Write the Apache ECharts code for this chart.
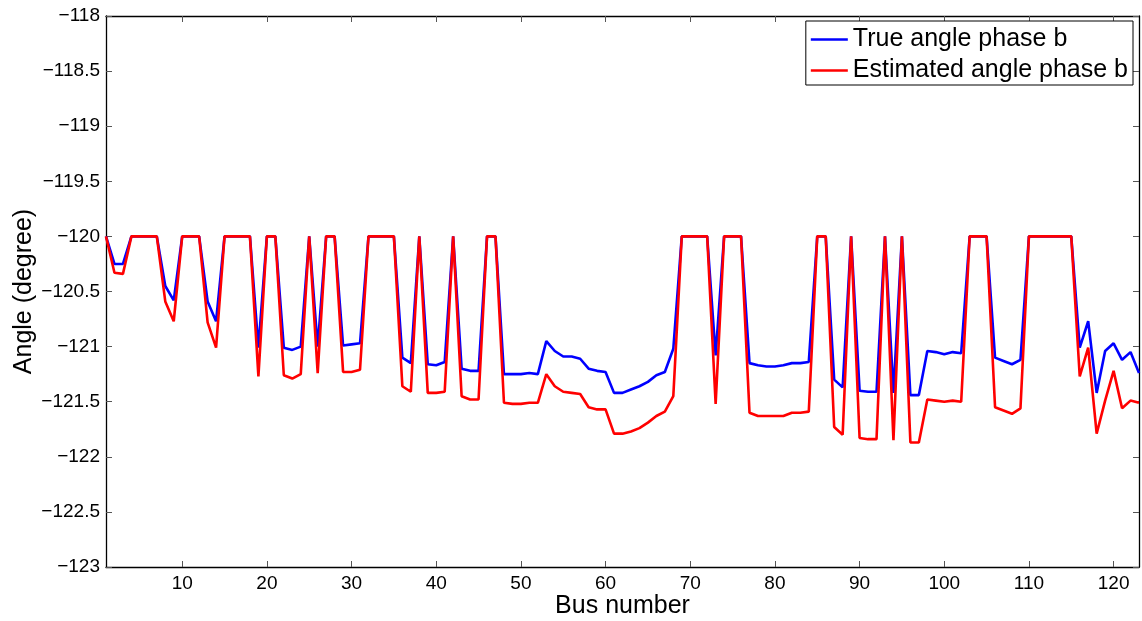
<!DOCTYPE html>
<html>
<head>
<meta charset="utf-8">
<script src="https://cdn.jsdelivr.net/npm/echarts@6/dist/echarts.min.js"></script>
<style>
html,body{margin:0;padding:0;background:#fff;}
#c{width:1142px;height:621px;}
</style>
</head>
<body>
<div id="c"></div>
<script>
const busNumbers = Array.from({length:123},(_,i)=>i+1);
const trueAngle = [
-120,-120.25,-120.25,-120,-120,-120,-120,-120.45,-120.58,-120,
-120,-120,-120.59,-120.77,-120,-120,-120,-120,-121.01,-120,
-120,-121.01,-121.03,-121.00,-120,-121.00,-120,-120,-120.99,-120.98,
-120.97,-120,-120,-120,-120,-121.10,-121.15,-120,-121.16,-121.17,
-121.14,-120,-121.20,-121.22,-121.22,-120,-120,-121.25,-121.25,-121.25,
-121.24,-121.25,-120.95,-121.04,-121.09,-121.09,-121.11,-121.20,-121.22,-121.23,
-121.42,-121.42,-121.39,-121.36,-121.32,-121.26,-121.23,-121.02,-120,-120,
-120,-120,-121.08,-120,-120,-120,-121.15,-121.17,-121.18,-121.18,
-121.17,-121.15,-121.15,-121.14,-120,-120,-121.30,-121.37,-120,-121.40,
-121.41,-121.41,-120,-121.42,-120,-121.44,-121.44,-121.04,-121.05,-121.07,
-121.05,-121.06,-120,-120,-120,-121.10,-121.13,-121.16,-121.12,-120,
-120,-120,-120,-120,-120,-121.01,-120.77,-121.42,-121.04,-120.97,
-121.12,-121.05,-121.24
];
const estAngle = [
-120,-120.33,-120.34,-120,-120,-120,-120,-120.59,-120.77,-120,
-120,-120,-120.78,-121.01,-120,-120,-120,-120,-121.27,-120,
-120,-121.26,-121.29,-121.25,-120,-121.24,-120,-120,-121.23,-121.23,
-121.21,-120,-120,-120,-120,-121.36,-121.41,-120,-121.42,-121.42,
-121.41,-120,-121.45,-121.48,-121.48,-120,-120,-121.51,-121.52,-121.52,
-121.51,-121.51,-121.25,-121.36,-121.41,-121.42,-121.43,-121.55,-121.57,-121.57,
-121.79,-121.79,-121.77,-121.74,-121.69,-121.63,-121.59,-121.45,-120,-120,
-120,-120,-121.52,-120,-120,-120,-121.60,-121.63,-121.63,-121.63,
-121.63,-121.60,-121.60,-121.59,-120,-120,-121.73,-121.80,-120,-121.83,
-121.84,-121.84,-120,-121.85,-120,-121.87,-121.87,-121.48,-121.49,-121.50,
-121.49,-121.50,-120,-120,-120,-121.55,-121.58,-121.61,-121.56,-120,
-120,-120,-120,-120,-120,-121.27,-121.01,-121.79,-121.49,-121.22,
-121.56,-121.49,-121.51
];
const xTicks = [10,20,30,40,50,60,70,80,90,100,110,120];
const seriesNames = ['True angle phase b','Estimated angle phase b'];

const font = 'Liberation Sans, Arial, Helvetica, sans-serif';
const tickStyle = {show:true, inside:true, length:6, lineStyle:{color:'#555', width:1}};
const lineStyleAxis = {show:true, lineStyle:{color:'#000', width:1.3}};
const fmtY = v => (v<0?'\u2212':'') + Math.abs(v);

const chart = echarts.init(document.getElementById('c'), null, {renderer:'canvas'});
chart.setOption({
  animation:false,
  backgroundColor:'#fff',
  grid:{left:106, right:3, top:16, bottom:54, containLabel:false, outerBoundsMode:'none'},
  legend:{
    data:seriesNames.map(n=>({name:n, icon:'rect'})),
    orient:'vertical',
    right:9, top:21,
    backgroundColor:'#fff',
    borderColor:'#000', borderWidth:1,
    padding:[6,5,2,5],
    itemGap:6,
    itemWidth:37, itemHeight:2.5,
    textStyle:{fontFamily:font, fontSize:25, color:'#000'}
  },
  xAxis:[{
    type:'value', min:1, max:123,
    name:'Bus number', nameLocation:'middle', nameGap:27, nameMoveOverlap:false,
    nameTextStyle:{fontFamily:font, fontSize:25, color:'#000', verticalAlign:'top'},
    axisLine:lineStyleAxis,
    axisTick:Object.assign({customValues:xTicks}, tickStyle),
    axisLabel:{customValues:xTicks, fontFamily:font, fontSize:19, color:'#000', margin:7},
    splitLine:{show:false}
  },{
    type:'value', min:1, max:123, position:'top',
    axisLine:lineStyleAxis,
    axisTick:Object.assign({customValues:xTicks}, tickStyle),
    axisLabel:{show:false},
    splitLine:{show:false}
  }],
  yAxis:[{
    type:'value', min:-123, max:-118, interval:0.5,
    name:'Angle (degree)', nameLocation:'middle', nameGap:69, nameMoveOverlap:false,
    nameTextStyle:{fontFamily:font, fontSize:25, color:'#000'},
    axisLine:lineStyleAxis,
    axisTick:tickStyle,
    axisLabel:{formatter:fmtY, fontFamily:font, fontSize:19, color:'#000', margin:6},
    splitLine:{show:false}
  },{
    type:'value', min:-123, max:-118, interval:0.5, position:'right',
    axisLine:lineStyleAxis,
    axisTick:tickStyle,
    axisLabel:{show:false},
    splitLine:{show:false}
  }],
  series:[{
    name:seriesNames[0], type:'line', symbol:'none',
    data:busNumbers.map((b,i)=>[b,trueAngle[i]]),
    lineStyle:{color:'#0000ff', width:2.6}, itemStyle:{color:'#0000ff'}
  },{
    name:seriesNames[1], type:'line', symbol:'none',
    data:busNumbers.map((b,i)=>[b,estAngle[i]]),
    lineStyle:{color:'#ff0000', width:2.6}, itemStyle:{color:'#ff0000'}
  }]
});
</script>
</body>
</html>
